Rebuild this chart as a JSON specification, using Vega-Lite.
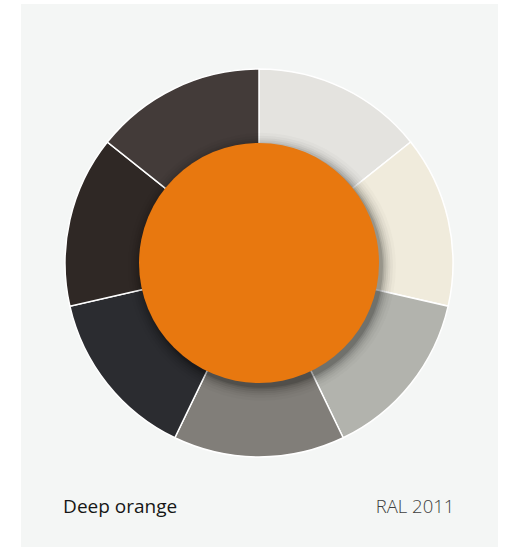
{
  "$schema": "https://vega.github.io/schema/vega-lite/v6.json",
  "width": 506,
  "height": 547,
  "autosize": {"type": "fit", "contains": "padding"},
  "padding": {"left": 21, "right": 8, "top": 4, "bottom": 0},
  "background": "#ffffff",
  "config": {"view": {"fill": "#f4f6f5", "stroke": null}},
  "datasets": {
    "segments": [
      {"order": 1, "name": "Light grey", "value": 1},
      {"order": 2, "name": "Cream", "value": 1},
      {"order": 3, "name": "Silver grey", "value": 1},
      {"order": 4, "name": "Stone grey", "value": 1},
      {"order": 5, "name": "Graphite", "value": 1},
      {"order": 6, "name": "Black brown", "value": 1},
      {"order": 7, "name": "Dark brown", "value": 1}
    ],
    "swatch": [{"name": "Deep orange", "code": "RAL 2011"}]
  },
  "layer": [
    {
      "data": {"name": "segments"},
      "mark": {"type": "arc", "outerRadius": 194, "innerRadius": 100, "stroke": "#ffffff", "strokeWidth": 1.5},
      "encoding": {
        "x": {"datum": 0, "type": "quantitative", "scale": {"domain": [-1.227, 1.232], "nice": false, "zero": false}, "axis": null},
        "y": {"datum": 0, "type": "quantitative", "scale": {"domain": [-1.464, 1.335], "nice": false, "zero": false}, "axis": null},
        "theta": {"field": "value", "type": "quantitative", "stack": true},
        "order": {"field": "order", "type": "quantitative"},
        "color": {
          "field": "name", "type": "nominal", "legend": null,
          "scale": {
            "domain": ["Light grey", "Cream", "Silver grey", "Stone grey", "Graphite", "Black brown", "Dark brown"],
            "range": ["#e4e3df", "#f0ebdc", "#b2b3ad", "#817e79", "#2b2c30", "#2f2825", "#433b39"]
          }
        }
      }
    },
    {
      "data": {"name": "swatch"},
      "mark": {"type": "arc", "theta": 0, "theta2": 6.2832, "outerRadius": 134, "innerRadius": 0, "fill": "#000000", "fillOpacity": 0.02},
      "encoding": {"x": {"datum": 0.015, "type": "quantitative"}, "y": {"datum": -0.02, "type": "quantitative"}}
    },
    {
      "data": {"name": "swatch"},
      "mark": {"type": "arc", "theta": 0, "theta2": 6.2832, "outerRadius": 131, "innerRadius": 0, "fill": "#000000", "fillOpacity": 0.03},
      "encoding": {"x": {"datum": 0.015, "type": "quantitative"}, "y": {"datum": -0.02, "type": "quantitative"}}
    },
    {
      "data": {"name": "swatch"},
      "mark": {"type": "arc", "theta": 0, "theta2": 6.2832, "outerRadius": 128.5, "innerRadius": 0, "fill": "#000000", "fillOpacity": 0.04},
      "encoding": {"x": {"datum": 0.015, "type": "quantitative"}, "y": {"datum": -0.02, "type": "quantitative"}}
    },
    {
      "data": {"name": "swatch"},
      "mark": {"type": "arc", "theta": 0, "theta2": 6.2832, "outerRadius": 126.5, "innerRadius": 0, "fill": "#000000", "fillOpacity": 0.05},
      "encoding": {"x": {"datum": 0.015, "type": "quantitative"}, "y": {"datum": -0.02, "type": "quantitative"}}
    },
    {
      "data": {"name": "swatch"},
      "mark": {"type": "arc", "theta": 0, "theta2": 6.2832, "outerRadius": 124.5, "innerRadius": 0, "fill": "#000000", "fillOpacity": 0.07},
      "encoding": {"x": {"datum": 0.015, "type": "quantitative"}, "y": {"datum": -0.02, "type": "quantitative"}}
    },
    {
      "data": {"name": "swatch"},
      "mark": {"type": "arc", "theta": 0, "theta2": 6.2832, "outerRadius": 122.5, "innerRadius": 0, "fill": "#000000", "fillOpacity": 0.09},
      "encoding": {"x": {"datum": 0.015, "type": "quantitative"}, "y": {"datum": -0.02, "type": "quantitative"}}
    },
    {
      "data": {"name": "swatch"},
      "mark": {"type": "arc", "theta": 0, "theta2": 6.2832, "outerRadius": 121, "innerRadius": 0, "fill": "#000000", "fillOpacity": 0.12},
      "encoding": {"x": {"datum": 0.015, "type": "quantitative"}, "y": {"datum": -0.02, "type": "quantitative"}}
    },
    {
      "data": {"name": "swatch"},
      "mark": {"type": "arc", "theta": 0, "theta2": 6.2832, "outerRadius": 120, "innerRadius": 0, "fill": "#e8780f"},
      "encoding": {"x": {"datum": 0, "type": "quantitative"}, "y": {"datum": 0, "type": "quantitative"}}
    },
    {
      "data": {"name": "swatch"},
      "mark": {"type": "text", "align": "left", "baseline": "alphabetic", "font": "Open Sans", "fontSize": 19, "fontWeight": 500, "color": "#161616"},
      "encoding": {
        "x": {"datum": -1.01, "type": "quantitative"},
        "y": {"datum": -1.289, "type": "quantitative"},
        "text": {"field": "name"}
      }
    },
    {
      "data": {"name": "swatch"},
      "mark": {"type": "text", "align": "right", "baseline": "alphabetic", "font": "Open Sans", "fontSize": 18.5, "fontWeight": 300, "color": "#3e3e3e"},
      "encoding": {
        "x": {"datum": 1.007, "type": "quantitative"},
        "y": {"datum": -1.289, "type": "quantitative"},
        "text": {"field": "code"}
      }
    }
  ]
}
